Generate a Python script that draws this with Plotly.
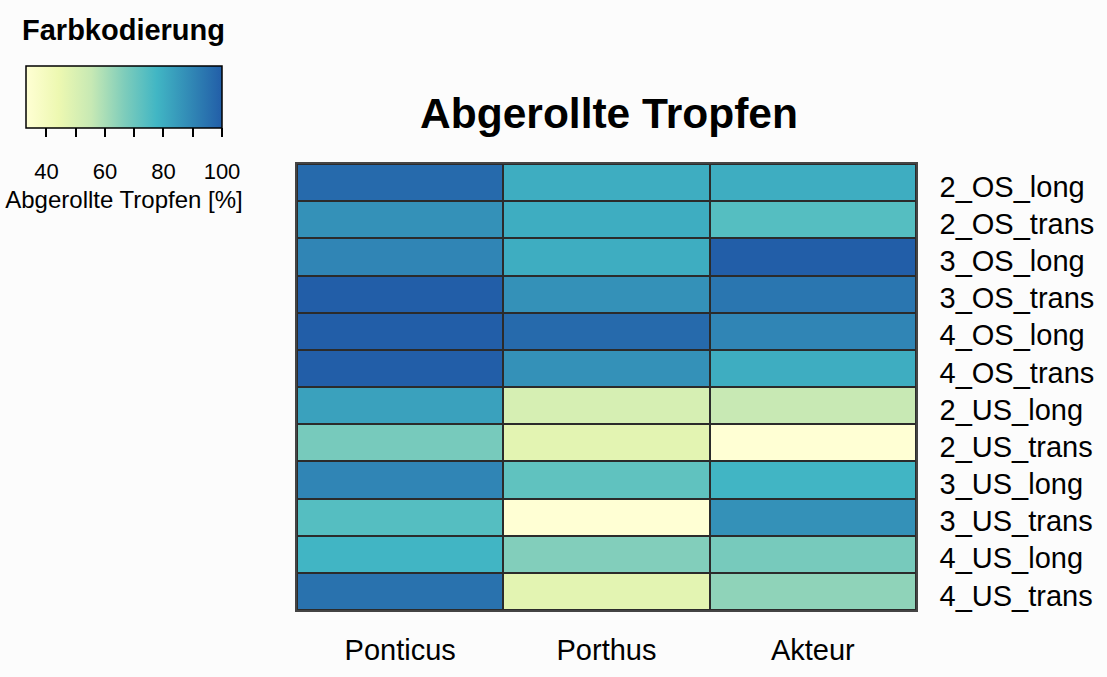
import plotly.graph_objects as go

columns = ["Ponticus", "Porthus", "Akteur"]
rows = ["2_OS_long", "2_OS_trans", "3_OS_long", "3_OS_trans", "4_OS_long", "4_OS_trans",
        "2_US_long", "2_US_trans", "3_US_long", "3_US_trans", "4_US_long", "4_US_trans"]

ponticus = [97, 87, 90, 100, 100, 100, 83, 68, 90, 74, 78, 95]
porthus = [80, 80, 80, 87, 97, 87, 51, 47, 72, 33, 66, 47]
akteur = [80, 74, 100, 94, 90, 80, 55, 33, 78, 87, 68, 64]

cb_tickvals = [40, 50, 60, 70, 80, 90, 100]
cb_ticktext = ["40", "", "60", "", "80", "", "100"]

colorscale = [
    [0.0, "#ffffd4"],
    [1/6, "#edf8b1"],
    [2/6, "#c7e9b4"],
    [3/6, "#7fcdbb"],
    [4/6, "#41b6c4"],
    [1.0, "#225ea8"],
]

z = [[ponticus[i], porthus[i], akteur[i]] for i in range(len(rows))]

FONT = "Liberation Sans, Arial, sans-serif"
W, H = 1107, 677
ML, MR, MT, MB = 297, 191, 164, 67
PW, PH = W - ML - MR, H - MT - MB

cb_common = dict(
    orientation="h",
    x=(124 - ML) / PW, xanchor="center",
    y=(H - MB - 66) / PH, yanchor="top",
    len=196, lenmode="pixels",
    thickness=62, thicknessmode="pixels",
    xpad=0, ypad=0,
    tickvals=cb_tickvals,
)

# main heatmap with the visible colour bar (bar, outline, tick marks)
fig = go.Figure(go.Heatmap(
    z=z, x=columns, y=rows,
    colorscale=colorscale, zmin=33, zmax=100,
    xgap=2, ygap=2,
    colorbar=dict(
        **cb_common,
        outlinewidth=1.5, outlinecolor="black",
        ticks="outside", ticklen=9, tickwidth=1.5, tickcolor="black",
        showticklabels=False,
    ),
))
# transparent overlay only used to place the colour bar labels further down
fig.add_trace(go.Heatmap(
    z=z, x=columns, y=rows,
    colorscale=[[0, "rgba(0,0,0,0)"], [1, "rgba(0,0,0,0)"]], zmin=33, zmax=100,
    hoverinfo="skip",
    colorbar=dict(
        **cb_common,
        outlinewidth=0,
        ticks="outside", ticklen=25, tickwidth=1, tickcolor="rgba(0,0,0,0)",
        ticktext=cb_ticktext,
        tickfont=dict(family=FONT, size=22, color="black"),
        title=dict(text="Abgerollte Tropfen [%]", side="bottom",
                   font=dict(family=FONT, size=24, color="black")),
    ),
))

fig.update_layout(
    width=W, height=H,
    margin=dict(l=ML, r=MR, t=MT, b=MB, autoexpand=False),
    paper_bgcolor="#fcfcfc",
    plot_bgcolor="#2b2b2b",
    title=dict(text="<b>Abgerollte Tropfen</b>", xref="container", yref="container",
               x=609 / W, xanchor="center", y=1 - 113 / H, yanchor="middle",
               font=dict(family=FONT, size=42.5, color="black")),
    annotations=[dict(text="<b>Farbkodierung</b>", xref="paper", yref="paper",
                      x=(123 - ML) / PW, y=(H - MB - 30) / PH, xanchor="center", yanchor="middle",
                      showarrow=False, font=dict(family=FONT, size=29, color="black"))],
)
fig.update_xaxes(side="bottom", ticks="", ticklabelstandoff=13, showgrid=False, zeroline=False,
                 tickfont=dict(family=FONT, size=29, color="black"),
                 showline=True, linecolor="#444444", linewidth=1.5, mirror=True)
fig.update_yaxes(side="right", autorange="reversed", ticks="", ticklabelstandoff=16,
                 ticklabelshift=-4,
                 showgrid=False, zeroline=False,
                 tickfont=dict(family=FONT, size=29, color="black"),
                 showline=True, linecolor="#444444", linewidth=1.5, mirror=True)

fig.write_html("out.html", post_script="document.body.style.margin='0';",
               config={"displayModeBar": False})
